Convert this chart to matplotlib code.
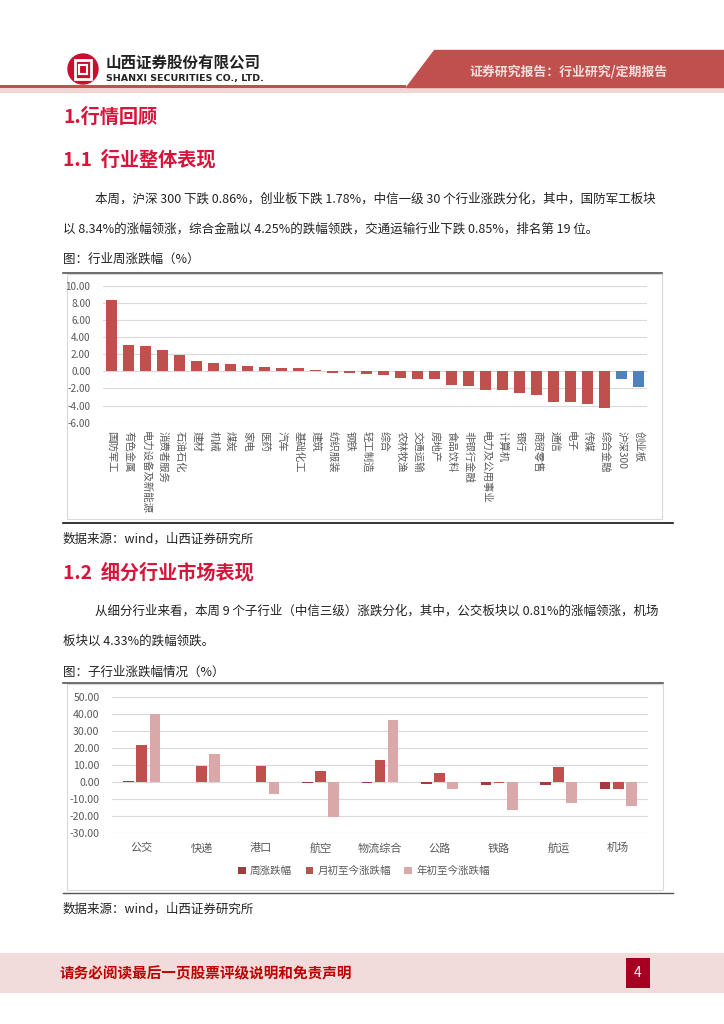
import matplotlib
matplotlib.use("Agg")
import matplotlib.pyplot as plt
import numpy as np
from matplotlib.patches import Polygon, Rectangle, Ellipse

plt.rcParams["font.family"] = ["Noto Sans CJK SC", "DejaVu Sans"]

# chart 1: weekly change by industry (%)
industries = ["国防军工", "有色金属", "电力设备及新能源", "消费者服务", "石油石化", "建材", "机械", "煤炭",
              "家电", "医药", "汽车", "基础化工", "建筑", "纺织服装", "钢铁", "轻工制造", "综合",
              "农林牧渔", "交通运输", "房地产", "食品饮料", "非银行金融", "电力及公用事业", "计算机",
              "银行", "商贸零售", "通信", "电子", "传媒", "综合金融", "沪深300", "创业板"]
weekly = [8.34, 3.10, 2.90, 2.50, 1.85, 1.20, 0.95, 0.85, 0.65, 0.50, 0.40, 0.35, 0.10, -0.20,
          -0.25, -0.35, -0.38, -0.76, -0.85, -0.85, -1.60, -1.68, -2.15, -2.20, -2.58, -2.75,
          -3.58, -3.58, -3.82, -4.25, -0.86, -1.78]
index_names = {"沪深300", "创业板"}

# chart 2: sub-industry performance (%)
subs = ["公交", "快递", "港口", "航空", "物流综合", "公路", "铁路", "航运", "机场"]
week_chg = [0.81, 0.0, 0.0, -0.3, -0.4, -1.2, -1.5, -1.5, -4.33]
month_chg = [22.0, 9.5, 9.5, 6.3, 13.0, 5.5, -0.8, 8.8, -3.8]
year_chg = [39.8, 16.4, -6.8, -20.2, 36.5, -4.2, -16.5, -12.3, -14.2]
series_names = ["周涨跌幅", "月初至今涨跌幅", "年初至今涨跌幅"]
series_colors = ["#A33A3B", "#C0504D", "#DBA8A9"]

W, H = 724, 1024
fig = plt.figure(figsize=(W / 100, H / 100), dpi=100)


def ftxt(x, y, s, **kw):
    fig.text(x / W, 1 - y / H, s, **kw)


def frect(x0, y0, x1, y1, **kw):
    kw.setdefault("zorder", -5)
    fig.patches.append(Rectangle((x0 / W, 1 - y1 / H), (x1 - x0) / W, (y1 - y0) / H,
                                 transform=fig.transFigure, **kw))


def fline(x0, x1, y, **kw):
    fig.add_artist(plt.Line2D([x0 / W, x1 / W], [1 - y / H, 1 - y / H], transform=fig.transFigure, **kw))


def add_ax(x0, y0, x1, y1):
    ax = fig.add_axes([x0 / W, 1 - y1 / H, (x1 - x0) / W, (y1 - y0) / H])
    ax.set_facecolor("none")
    return ax


# ---- header ----
band = Polygon([(434 / W, 1 - 50 / H), (1, 1 - 50 / H), (1, 1 - 87 / H), (406 / W, 1 - 87 / H)],
               closed=True, transform=fig.transFigure, color="#C0504D")
fig.patches.append(band)
frect(0, 85, 406, 88, color="#C0504D", lw=0)
frect(0, 88, W, 93, color="#F3D5D4", lw=0)
fig.patches.append(Ellipse((83 / W, 1 - 69 / H), 30 / W, 30 / H, transform=fig.transFigure,
                           color="#C8102E", zorder=1))
frect(75, 60, 91, 79, facecolor="none", edgecolor="white", lw=2, zorder=2)
frect(79, 65, 87, 74, facecolor="none", edgecolor="white", lw=1.5, zorder=2)
ftxt(106, 63, "山西证券股份有限公司", fontsize=11.2, fontweight="bold", va="center", color="#222222")
ftxt(106, 79, "SHANXI SECURITIES CO., LTD.", fontsize=6.8, fontweight="bold", va="center",
     color="#222222", family=["DejaVu Sans"])
ftxt(470, 72, "证券研究报告：行业研究/定期报告", fontsize=9.3, fontweight="bold", va="center", color="#F6DCDB")

red = "#D7153A"
body = "#222222"
fs = 9.0
ftxt(63, 117, "1.行情回顾", fontsize=13.8, fontweight="bold", color=red, va="center")
ftxt(63, 160, "1.1  行业整体表现", fontsize=13.8, fontweight="bold", color=red, va="center")
ftxt(95, 199, "本周，沪深 300 下跌 0.86%，创业板下跌 1.78%，中信一级 30 个行业涨跌分化，其中，国防军工板块",
     fontsize=fs, color=body, va="center")
ftxt(63, 229, "以 8.34%的涨幅领涨，综合金融以 4.25%的跌幅领跌，交通运输行业下跌 0.85%，排名第 19 位。",
     fontsize=fs, color=body, va="center")
ftxt(63, 259, "图：行业周涨跌幅（%）", fontsize=fs, color=body, va="center")

# chart 1 frame
frect(67, 274, 662, 519, facecolor="white", edgecolor="#D9D9D9", lw=0.8)
fline(63, 662, 273, color="#555555", lw=1.2)
fline(63, 673, 523, color="#111111", lw=1.2)

ax1 = add_ax(103, 285.7, 647, 422.7)
x = np.arange(len(industries))
cols = ["#4F81BD" if n in index_names else "#C0504D" for n in industries]
ax1.bar(x, weekly, width=0.66, color=cols, zorder=3)
ax1.set_ylim(-6, 10)
ax1.set_xlim(-0.5, len(industries) - 0.5)
ax1.set_yticks(np.arange(-6, 10.01, 2))
ax1.set_yticklabels([f"{v:.2f}" for v in np.arange(-6, 10.01, 2)])
ax1.yaxis.grid(True, color="#D9D9D9", lw=0.8, zorder=0)
ax1.set_xticks(x)
ax1.set_xticklabels(industries, rotation=-90, va="top", ha="center")
for s in ax1.spines.values():
    s.set_visible(False)
ax1.tick_params(length=0, colors="#595959")
ax1.tick_params(axis="y", labelsize=7.2, pad=9)
ax1.tick_params(axis="x", labelsize=7.5, pad=6)

ftxt(63, 539, "数据来源：wind，山西证券研究所", fontsize=fs, color=body, va="center")

ftxt(63, 573, "1.2  细分行业市场表现", fontsize=13.8, fontweight="bold", color=red, va="center")
ftxt(95, 611, "从细分行业来看，本周 9 个子行业（中信三级）涨跌分化，其中，公交板块以 0.81%的涨幅领涨，机场",
     fontsize=fs, color=body, va="center")
ftxt(63, 641, "板块以 4.33%的跌幅领跌。", fontsize=fs, color=body, va="center")
ftxt(63, 672, "图：子行业涨跌幅情况（%）", fontsize=fs, color=body, va="center")

# chart 2 frame
frect(67, 684, 663, 890, facecolor="white", edgecolor="#D9D9D9", lw=0.8)
fline(63, 663, 683, color="#555555", lw=1.2)
fline(63, 673, 893, color="#555555", lw=1.0)

ax2 = add_ax(112, 696.7, 648, 833.3)
x2 = np.arange(len(subs))
step, bw = 0.22, 0.18
for i, (vals, name, c) in enumerate(zip([week_chg, month_chg, year_chg], series_names, series_colors)):
    ax2.bar(x2 + (i - 1) * step, vals, width=bw, color=c, label=name, zorder=3)
ax2.set_ylim(-30, 50)
ax2.set_xlim(-0.5, len(subs) - 0.5)
ax2.set_yticks(np.arange(-30, 50.01, 10))
ax2.set_yticklabels([f"{v:.2f}" for v in np.arange(-30, 50.01, 10)])
ax2.yaxis.grid(True, color="#D9D9D9", lw=0.8, zorder=0)
ax2.set_xticks(x2)
ax2.set_xticklabels(subs)
for s in ax2.spines.values():
    s.set_visible(False)
ax2.tick_params(length=0, colors="#595959")
ax2.tick_params(axis="y", labelsize=7.6, pad=9)
ax2.tick_params(axis="x", labelsize=8, pad=7)
leg = ax2.legend(loc="upper center", bbox_to_anchor=(0.47, -0.17), ncol=3, frameon=False,
                 fontsize=7.6, handlelength=0.7, handleheight=0.7, handletextpad=0.4, columnspacing=1.3)
for t in leg.get_texts():
    t.set_color("#595959")

ftxt(63, 909, "数据来源：wind，山西证券研究所", fontsize=fs, color=body, va="center")

# ---- footer ----
frect(0, 953, W, 993, color="#F2DCDB", lw=0)
ftxt(60, 973, "请务必阅读最后一页股票评级说明和免责声明", fontsize=10.5, fontweight="bold",
     color="#C00000", va="center", style="italic")
frect(626, 958, 650, 988, color="#A50021", lw=0)
ftxt(638, 973, "4", fontsize=10, color="white", ha="center", va="center")

fig.savefig("out.png", dpi=100)
